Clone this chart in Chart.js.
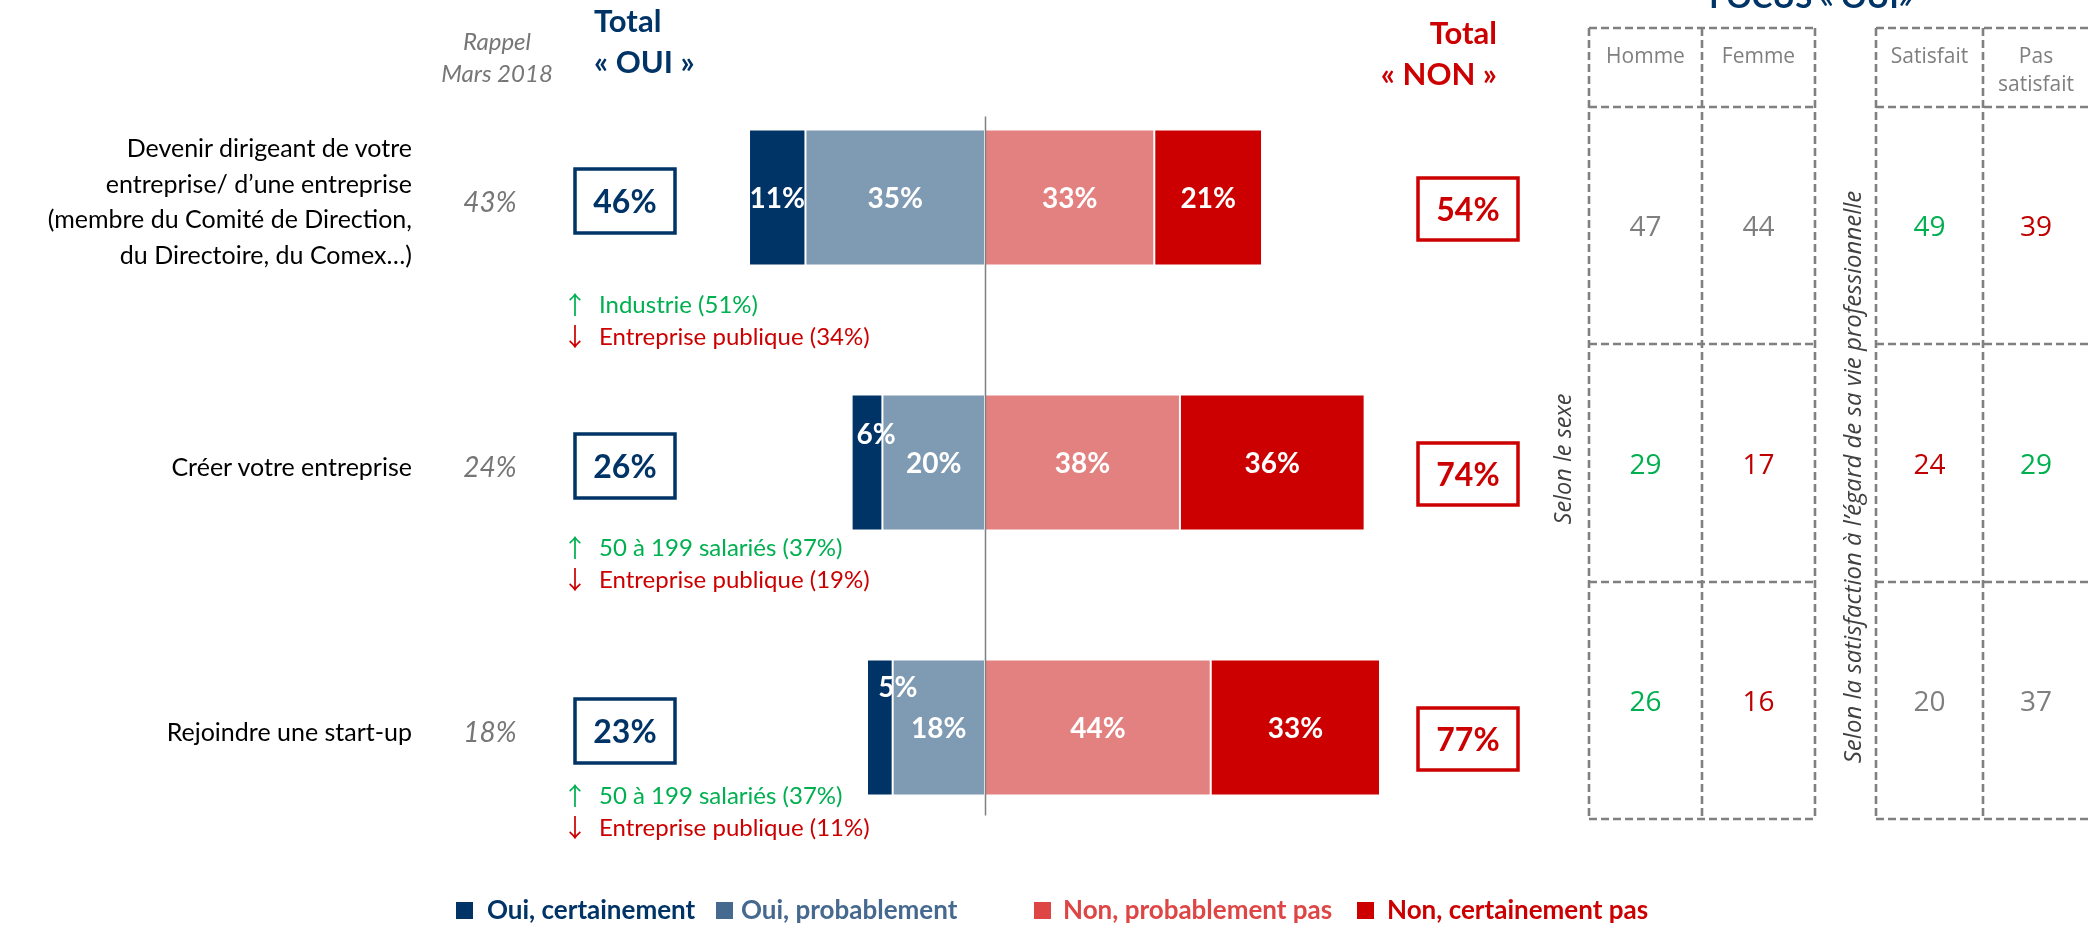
<!DOCTYPE html>
<html><head><meta charset="utf-8">
<script src="https://cdn.jsdelivr.net/npm/chart.js@4.4.1/dist/chart.umd.min.js"></script>
<style>
html,body{margin:0;padding:0;background:#fff;}
#wrap{position:relative;width:2088px;height:925px;overflow:hidden;background:#fff;}
#c{position:absolute;left:0;top:0;}
#ov{position:absolute;left:0;top:0;}
</style></head><body>
<div id="wrap"><canvas id="c" width="2088" height="925"></canvas>
<svg id="ov" width="2088" height="925" xmlns="http://www.w3.org/2000/svg"></svg></div>
<script>
// ---------- DATA ----------
const categories = [
  ["Devenir dirigeant de votre", "entreprise/ d\u2019une entreprise", "(membre du Comit\u00e9 de Direction,", "du Directoire, du Comex\u2026)"],
  ["Cr\u00e9er votre entreprise"],
  ["Rejoindre une start-up"]
];
const ouiCertainement = [11, 6, 5];
const ouiProbablement = [35, 20, 18];
const nonProbablement = [33, 38, 44];
const nonCertainement = [21, 36, 33];
const totalOui = [46, 26, 23];
const totalNon = [54, 74, 77];
const rappelMars2018 = [43, 24, 18];
const hausseLabels = ["Industrie (51%)", "50 \u00e0 199 salari\u00e9s (37%)", "50 \u00e0 199 salari\u00e9s (37%)"];
const baisseLabels = ["Entreprise publique (34%)", "Entreprise publique (19%)", "Entreprise publique (11%)"];
const seriesNames = ["Oui, certainement", "Oui, probablement", "Non, probablement pas", "Non, certainement pas"];
const focusColumns = ["Homme", "Femme", "Satisfait", "Pas satisfait"];
const focusHomme = [47, 29, 26];
const focusFemme = [44, 17, 16];
const focusSatisfait = [49, 24, 20];
const focusPasSatisfait = [39, 29, 37];
// significance: 1 = higher, -1 = lower, 0 = not significant
const sigHomme = [0, 1, 1];
const sigFemme = [0, -1, -1];
const sigSatisfait = [1, -1, 0];
const sigPasSatisfait = [-1, 1, 0];

// ---------- STYLE / LAYOUT ----------
const NAVY = '#003366', STEEL = '#7F9AB3', PINK = '#E38181', RED = '#CC0000';
const LEG_STEEL = '#46698F', LEG_PINK = '#DE4646';
const GREEN = '#00B050', GREY = '#7F7F7F';
const SANS = 'Lato, "Open Sans", sans-serif';
const TSANS = '"Open Sans", Lato, sans-serif';
const ARROW = '"Noto Sans CJK JP", "DejaVu Sans", sans-serif';
const annotOffset = [115, 93, 76];
const smallLabelShift = [[0, 0], [9, -29], [18, -41]];

const labelPlugin = {
  id: 'segLabels',
  afterDatasetsDraw(chart) {
    const ctx = chart.ctx;
    const xs = chart.scales.x;
    const yTop = chart.getDatasetMeta(0).data[0];
    const yBot = chart.getDatasetMeta(0).data[2];
    ctx.save();
    ctx.strokeStyle = '#808080';
    ctx.lineWidth = 1.5;
    ctx.beginPath();
    const x0 = Math.round(xs.getPixelForValue(0)) + 0.5;
    ctx.moveTo(x0, yTop.y - yTop.height / 2 - 13);
    ctx.lineTo(x0, yBot.y + yBot.height / 2 + 20);
    ctx.stroke();
    ctx.fillStyle = '#fff';
    ctx.font = 'bold 28px ' + SANS;
    ctx.textAlign = 'center';
    ctx.textBaseline = 'middle';
    chart.data.datasets.forEach((ds, di) => {
      const meta = chart.getDatasetMeta(di);
      meta.data.forEach((bar, i) => {
        const v = Math.abs(ds.data[i]);
        let cx = (bar.x + bar.base) / 2, cy = bar.y;
        if (ds.key === 'oc' && v < 8) { cx += smallLabelShift[i][0]; cy += smallLabelShift[i][1]; }
        ctx.fillText(v + '%', cx, cy + 1);
      });
    });
    ctx.restore();
  }
};

const chart = new Chart(document.getElementById('c'), {
  type: 'bar',
  data: {
    labels: categories,
    datasets: [
      { key: 'op', label: seriesNames[1], data: ouiProbablement.map(v => -v), backgroundColor: STEEL },
      { key: 'oc', label: seriesNames[0], data: ouiCertainement.map(v => -v), backgroundColor: NAVY },
      { key: 'np', label: seriesNames[2], data: nonProbablement, backgroundColor: PINK },
      { key: 'nc', label: seriesNames[3], data: nonCertainement, backgroundColor: RED }
    ]
  },
  options: {
    indexAxis: 'y', responsive: false, animation: false, devicePixelRatio: 1,
    layout: { padding: { left: 472, right: 590, top: 65, bottom: 65 } },
    scales: {
      x: { stacked: true, min: -100, max: 100, display: false },
      y: { stacked: true, display: false }
    },
    datasets: { bar: { barPercentage: 1, categoryPercentage: 0.513, borderColor: '#ffffff', borderWidth: 1, borderSkipped: false } },
    plugins: { legend: { display: false }, tooltip: { enabled: false } }
  },
  plugins: [labelPlugin]
});

// ---------- SVG OVERLAY ----------
const svg = document.getElementById('ov');
const NS = 'http://www.w3.org/2000/svg';
function el(name, attrs, text) {
  const e = document.createElementNS(NS, name);
  for (const k in attrs) e.setAttribute(k, attrs[k]);
  if (text !== undefined) e.textContent = text;
  svg.appendChild(e);
  return e;
}
function txt(x, y, s, o) {
  o = o || {};
  return el('text', Object.assign({ x: x, y: y, 'font-family': o.family || SANS, 'font-size': o.size || 24,
    'font-weight': o.weight || 'normal', 'font-style': o.style || 'normal', fill: o.fill || '#000',
    'text-anchor': o.anchor || 'start' }, o.extra || {}), s);
}

// Column headers
txt(497, 50, 'Rappel', { size: 24, style: 'italic', fill: '#767676', anchor: 'middle' });
txt(497, 82, 'Mars 2018', { size: 24, style: 'italic', fill: '#767676', anchor: 'middle' });
txt(594, 32, 'Total', { size: 31, weight: 'bold', fill: NAVY });
txt(594, 73, '\u00ab OUI \u00bb', { size: 31, weight: 'bold', fill: NAVY });
txt(1497, 44, 'Total', { size: 31, weight: 'bold', fill: RED, anchor: 'end' });
txt(1497, 85, '\u00ab NON \u00bb', { size: 31, weight: 'bold', fill: RED, anchor: 'end' });
txt(1811, 8, 'FOCUS \u00ab OUI\u00bb', { size: 31, weight: 'bold', fill: NAVY, anchor: 'middle' });

// Row items, positioned from the chart's own category scale
const ys = chart.scales.y;
categories.forEach((lines, i) => {
  const cy = ys.getPixelForValue(i);
  const n = lines.length;
  lines.forEach((line, k) => {
    txt(412, cy + 13 + (k - (n - 1) / 2) * 35.5, line, { size: 25, fill: '#000', anchor: 'end' });
  });
  txt(490, cy + 14, rappelMars2018[i] + '%', { size: 28, style: 'italic', fill: '#767676', anchor: 'middle' });
  const bo = cy + 3.5;
  el('rect', { x: 575, y: bo - 32, width: 100, height: 64, fill: '#fff', stroke: NAVY, 'stroke-width': 3.5 });
  txt(625, bo + 12, totalOui[i] + '%', { size: 32, weight: 'bold', fill: NAVY, anchor: 'middle' });
  const bn = cy + 11.5;
  el('rect', { x: 1418, y: bn - 31, width: 100, height: 62, fill: '#fff', stroke: RED, 'stroke-width': 3.5 });
  txt(1468, bn + 12, totalNon[i] + '%', { size: 32, weight: 'bold', fill: RED, anchor: 'middle' });
  const a1 = cy + annotOffset[i], a2 = a1 + 32;
  txt(575, a1 + 1, '\u2191', { size: 25, fill: GREEN, anchor: 'middle', family: ARROW });
  txt(599, a1, hausseLabels[i], { size: 24, fill: GREEN });
  txt(575, a2 + 1, '\u2193', { size: 25, fill: RED, anchor: 'middle', family: ARROW });
  txt(599, a2, baisseLabels[i], { size: 24, fill: RED });
});

// Focus table
const tLeft = [1589, 1702, 1815], tRight = [1876, 1983, 2093], tRows = [28, 107, 344, 582, 819];
function grid(cols) {
  const st = { stroke: '#808080', 'stroke-width': 2.6, 'stroke-dasharray': '8 4', fill: 'none' };
  tRows.forEach(y => el('line', Object.assign({ x1: cols[0], y1: y, x2: cols[cols.length - 1], y2: y }, st)));
  cols.forEach(x => el('line', Object.assign({ x1: x, y1: tRows[0], x2: x, y2: tRows[tRows.length - 1] }, st)));
}
grid(tLeft); grid(tRight);
const colCenters = [(tLeft[0] + tLeft[1]) / 2, (tLeft[1] + tLeft[2]) / 2, (tRight[0] + tRight[1]) / 2, (tRight[1] + 2089) / 2];
txt(colCenters[0], 63, focusColumns[0], { family: TSANS, size: 21, fill: GREY, anchor: 'middle' });
txt(colCenters[1], 63, focusColumns[1], { family: TSANS, size: 21, fill: GREY, anchor: 'middle' });
txt(colCenters[2], 63, focusColumns[2], { family: TSANS, size: 21, fill: GREY, anchor: 'middle' });
const pasParts = focusColumns[3].split(' ');
txt(colCenters[3], 63, pasParts[0], { family: TSANS, size: 21, fill: GREY, anchor: 'middle' });
txt(colCenters[3], 91, pasParts[1], { family: TSANS, size: 21, fill: GREY, anchor: 'middle' });
const focusVals = [focusHomme, focusFemme, focusSatisfait, focusPasSatisfait];
const focusSig = [sigHomme, sigFemme, sigSatisfait, sigPasSatisfait];
const sigColor = s => s > 0 ? GREEN : (s < 0 ? '#C00000' : GREY);
for (let r = 0; r < 3; r++) {
  const cyc = (tRows[r + 1] + tRows[r + 2]) / 2;
  focusVals.forEach((arr, c) => {
    txt(colCenters[c], cyc + 10.5, String(arr[r]), { family: TSANS, size: 28, fill: sigColor(focusSig[c][r]), anchor: 'middle' });
  });
}
txt(0, 0, 'Selon le sexe', { family: TSANS, size: 23.5, style: 'italic', fill: '#404040', anchor: 'middle', extra: { transform: 'translate(1571,459) rotate(-90)' } });
txt(0, 0, 'Selon la satisfaction \u00e0 l\u2019\u00e9gard de sa vie professionnelle', { family: TSANS, size: 24, style: 'italic', fill: '#404040', anchor: 'middle', extra: { transform: 'translate(1861,477) rotate(-90)' } });

// Legend
const legend = [
  { sq: 456, tx: 487, c: NAVY, n: seriesNames[0] },
  { sq: 716, tx: 741, c: LEG_STEEL, n: seriesNames[1] },
  { sq: 1034, tx: 1063, c: LEG_PINK, n: seriesNames[2] },
  { sq: 1357, tx: 1387, c: RED, n: seriesNames[3] }
];
legend.forEach(l => {
  el('rect', { x: l.sq, y: 902, width: 17, height: 17, fill: l.c });
  txt(l.tx, 919, l.n, { size: 26, weight: 'bold', fill: l.c });
});
</script>
</body></html>
